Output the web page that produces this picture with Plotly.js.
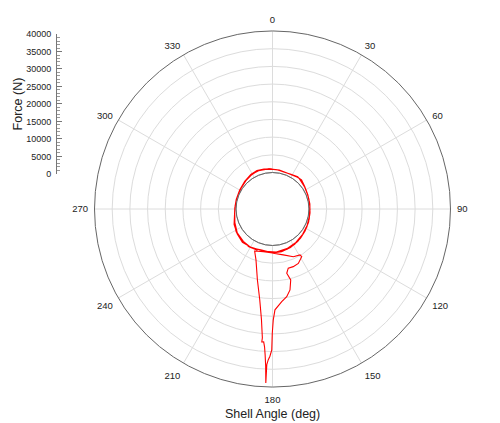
<!DOCTYPE html>
<html>
<head>
<meta charset="utf-8">
<script src="https://cdn.plot.ly/plotly-3.0.1.min.js"></script>
<style>
  html, body { margin: 0; padding: 0; background: #fff; }
  #chart { width: 500px; height: 423px; }
</style>
</head>
<body>
<div id="chart"></div>
<script>
// force (N) vs shell angle (deg)
// first pass round the shell
const loop1Theta = [200, 212, 225, 238, 250, 262, 275, 290, 305, 318, 330, 340, 350, 358, 8, 18, 28, 38, 48, 60, 75, 90, 105, 118, 130, 142, 155, 168, 180, 192];
const loop1R     = [2100, 2300, 2100, 1800, 1200, 500, 300, 250, 350, 700, 1100, 1200, 1050, 950, 800, 600, 800, 1250, 1000, 600, 350, 300, 450, 650, 900, 1300, 1700, 2000, 2100, 2000];

// spike out towards 180 deg and back
const spikeOutTheta = [203, 198, 192, 188, 185.7, 184.5, 184.6, 183.8, 183.3, 182.9, 182.5, 182.2];
const spikeOutR     = [2600, 4800, 10200, 15600, 21100, 26200, 27400, 27300, 28700, 30900, 34000, 38900];
const spikeBackTheta = [182.1, 181.6, 181, 180.3, 180.1, 179.6, 178.6, 174.3, 170.8, 167.8, 165.6, 167.5, 165.1, 160.2, 154.6, 148.5, 149.1, 156.4, 166.8, 179, 197, 210];
const spikeBackR     = [33700, 32300, 31300, 29500, 24800, 21000, 18200, 16000, 14800, 13100, 10400, 8300, 7000, 7000, 6700, 5500, 4800, 4400, 3000, 2200, 1800, 2100];

// second and third passes
const loop2Theta = [222, 235, 248, 260, 272, 285, 300, 315, 328, 338, 348, 356, 5, 15, 25, 35, 45, 55, 68, 82, 96, 110, 124, 136, 148, 160, 172, 184, 196, 208];
const loop2R     = [2400, 1900, 1400, 600, 350, 300, 400, 800, 1250, 1400, 1200, 1000, 900, 700, 700, 1100, 1300, 800, 450, 350, 350, 550, 800, 1100, 1500, 1800, 2000, 1900, 1700, 2200];
const loop3Theta = [222, 236, 250, 265, 280, 295, 310, 325, 340, 355, 10, 25, 40, 55, 70, 85, 100, 115, 130, 145, 160, 175, 190];
const loop3R     = [2000, 1700, 1000, 400, 250, 300, 600, 1000, 1300, 1100, 900, 650, 1200, 700, 400, 250, 300, 500, 800, 1200, 1600, 1900, 1800];

const forceTicks = [0, 5000, 10000, 15000, 20000, 25000, 30000, 35000, 40000];
const forceLabels = ['0', '5000', '10000', '15000', '20000', '25000', '30000', '35000', '40000'];
const angleTicks = [0, 30, 60, 90, 120, 150, 180, 210, 240, 270, 300, 330];
const angleLabels = ['0', '30', '60', '90', '120', '150', '180', '210', '240', '270', '300', '330'];

const theta = [].concat(loop1Theta, spikeOutTheta, spikeBackTheta, loop2Theta, loop3Theta);
const r = [].concat(loop1R, spikeOutR, spikeBackR, loop2R, loop3R);

const font = "Liberation Sans, Arial, sans-serif";

const traces = [{
    type: 'scatterpolar',
    mode: 'lines',
    theta: theta,
    r: r,
    line: { color: '#ff0000', width: 1.1 },
    hoverinfo: 'skip',
    showlegend: false
}, {
    // empty trace so the force axis gets drawn
    type: 'scatter',
    x: [],
    y: [],
    xaxis: 'x',
    yaxis: 'y',
    hoverinfo: 'skip',
    showlegend: false
}];

const layout = {
    width: 500,
    height: 423,
    margin: { l: 0, r: 0, t: 0, b: 0 },
    paper_bgcolor: '#fff',
    plot_bgcolor: 'rgba(0,0,0,0)',
    font: { family: font, color: '#222' },
    showlegend: false,
    polar: {
        domain: { x: [0.189, 0.901], y: [0.0851, 0.9267] },
        hole: 0.205,
        bgcolor: 'rgba(0,0,0,0)',
        angularaxis: {
            direction: 'clockwise',
            rotation: 90,
            tickmode: 'array',
            tickvals: angleTicks,
            ticktext: angleLabels,
            // invisible ticks just push the labels out a bit
            ticks: 'outside',
            ticklen: 4,
            tickcolor: 'rgba(0,0,0,0)',
            showline: true,
            linecolor: '#666',
            linewidth: 1,
            gridcolor: '#dcdcdc',
            tickfont: { size: 9.5, color: '#222' }
        },
        radialaxis: {
            range: [0, 40000],
            tickmode: 'linear',
            dtick: 5000,
            showticklabels: false,
            ticks: '',
            showline: false,
            gridcolor: '#dcdcdc'
        }
    },
    xaxis: {
        domain: [0.114, 0.13],
        range: [0, 1],
        visible: false
    },
    yaxis: {
        domain: [0.5887, 0.9196],
        range: [0, 40000],
        tickmode: 'array',
        tickvals: forceTicks,
        ticktext: forceLabels,
        ticks: 'inside',
        ticklen: 5,
        tickcolor: '#777',
        showline: true,
        linecolor: '#777',
        showgrid: false,
        zeroline: false,
        ticklabelstandoff: 3,
        tickfont: { size: 9, color: '#222' },
        minor: { dtick: 1000, ticks: 'inside', ticklen: 3, tickcolor: '#999', showgrid: false },
        title: { text: 'Force (N)', font: { size: 12.5, color: '#222' }, standoff: 0 }
    },
    shapes: [{
        // r = 0 ring at the edge of the hole
        type: 'circle',
        xref: 'paper', yref: 'paper',
        x0: 236 / 500, x1: 309 / 500,
        y0: (423 - 245.5) / 423, y1: (423 - 172.5) / 423,
        line: { color: '#aaa', width: 1 },
        layer: 'below'
    }],
    annotations: [{
        text: 'Shell Angle (deg)',
        xref: 'paper', yref: 'paper',
        x: 0.545, y: 0.022,
        xanchor: 'center', yanchor: 'middle',
        showarrow: false,
        font: { size: 12.5, color: '#222' }
    }]
};

Plotly.newPlot('chart', traces, layout, { staticPlot: true, displayModeBar: false });
</script>
</body>
</html>
